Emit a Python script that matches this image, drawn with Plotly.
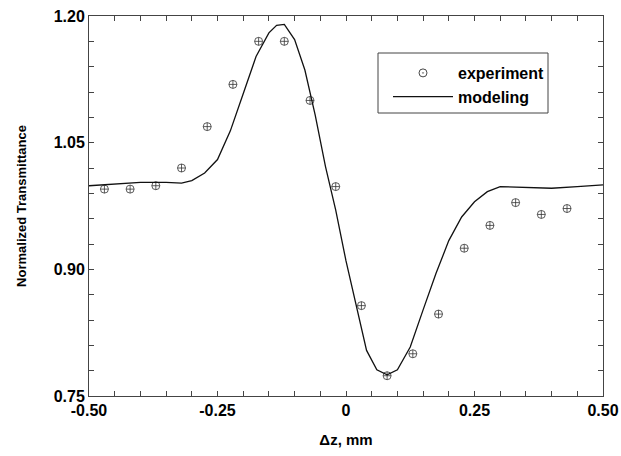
import plotly.graph_objects as go

exp_x = [-0.47, -0.42, -0.37, -0.32, -0.27, -0.22, -0.17, -0.12, -0.07, -0.02,
         0.03, 0.08, 0.13, 0.18, 0.23, 0.28, 0.33, 0.38, 0.43]
exp_y = [0.995, 0.995, 0.999, 1.020, 1.069, 1.119, 1.170, 1.170, 1.100, 0.998,
         0.857, 0.774, 0.800, 0.847, 0.925, 0.952, 0.979, 0.965, 0.972]

model_x = [-0.50, -0.45, -0.40, -0.35, -0.32, -0.30, -0.275, -0.25, -0.225, -0.20,
           -0.175, -0.15, -0.135, -0.12, -0.10, -0.08, -0.06, -0.04, -0.02, 0.00,
           0.02, 0.04, 0.06, 0.08, 0.10, 0.125, 0.15, 0.175, 0.20, 0.225,
           0.25, 0.275, 0.30, 0.35, 0.40, 0.45, 0.50]
model_y = [0.999, 1.001, 1.003, 1.003, 1.002, 1.005, 1.014, 1.030, 1.064, 1.108,
           1.152, 1.180, 1.189, 1.190, 1.172, 1.136, 1.083, 1.022, 0.970, 0.910,
           0.855, 0.804, 0.781, 0.775, 0.781, 0.808, 0.852, 0.895, 0.934, 0.962,
           0.980, 0.992, 0.998, 0.997, 0.996, 0.998, 1.000]

x_ticks = [-0.50, -0.25, 0.0, 0.25, 0.50]
x_labels = ["-0.50", "-0.25", "0", "0.25", "0.50"]
y_ticks = [0.75, 0.90, 1.05, 1.20]
y_labels = ["0.75", "0.90", "1.05", "1.20"]

font = "Liberation Sans, Arial, sans-serif"
W, H = 621, 456
L, R, T, B = 89, 18, 16, 60
pw, ph = W - L - R, H - T - B

def px_x(p):
    return (p - L) / pw

def px_y(p):
    return (H - B - p) / ph

fig = go.Figure()
# legend-only entry with the dotted-circle symbol used in the key
fig.add_trace(go.Scatter(
    x=[None], y=[None], mode="markers", name="experiment",
    marker=dict(symbol="circle-dot", size=8, color="white",
                line=dict(width=0.9, color="#333333")),
))
fig.add_trace(go.Scatter(
    x=exp_x, y=exp_y, mode="markers", name="experiment", showlegend=False,
    marker=dict(symbol="circle-cross-open", size=8, color="#333333",
                line=dict(width=0.8, color="#333333")),
))
fig.add_trace(go.Scatter(
    x=model_x, y=model_y, mode="lines", name="modeling",
    line=dict(color="#111111", width=1.3),
))

axis_common = dict(
    showline=True, linecolor="#444444", linewidth=1, mirror="ticks",
    ticks="inside", ticklen=5, tickcolor="#444444", showgrid=False, zeroline=False,
    automargin=False,
    tickfont=dict(family=font, size=16, color="black", weight="bold"),
)

fig.update_xaxes(
    range=[-0.5, 0.5], tickvals=x_ticks, ticktext=x_labels,
    minor=dict(dtick=0.05, ticks="inside", ticklen=5, tickcolor="#444444"),
    title=dict(text="Δz, mm", font=dict(family=font, size=15, color="black", weight="bold"),
               standoff=16),
    **axis_common,
)
fig.update_yaxes(
    range=[0.75, 1.20], tickvals=y_ticks, ticktext=y_labels,
    minor=dict(dtick=0.03, tick0=0.75, ticks="inside", ticklen=5, tickcolor="#444444"),
    title=dict(text="Normalized Transmittance",
               font=dict(family=font, size=13, color="black", weight="bold"), standoff=24),
    **axis_common,
)

# legend frame
fig.add_shape(type="rect", xref="paper", yref="paper",
              x0=px_x(378), x1=px_x(548), y0=px_y(113), y1=px_y(53),
              line=dict(color="#444444", width=1), fillcolor="white", layer="below")

fig.update_layout(
    width=W, height=H,
    margin=dict(l=L, r=R, t=T, b=B),
    plot_bgcolor="white", paper_bgcolor="white",
    showlegend=True,
    legend=dict(
        x=px_x(388), y=px_y(56), xanchor="left", yanchor="top",
        bgcolor="rgba(0,0,0,0)", borderwidth=0,
        font=dict(family=font, size=16, color="black", weight="bold"),
        itemwidth=60, tracegroupgap=0,
    ),
)

fig.write_html(
    "out.html",
    config={"displayModeBar": False},
    post_script="document.body.style.margin='0';document.body.style.overflow='hidden';",
)
